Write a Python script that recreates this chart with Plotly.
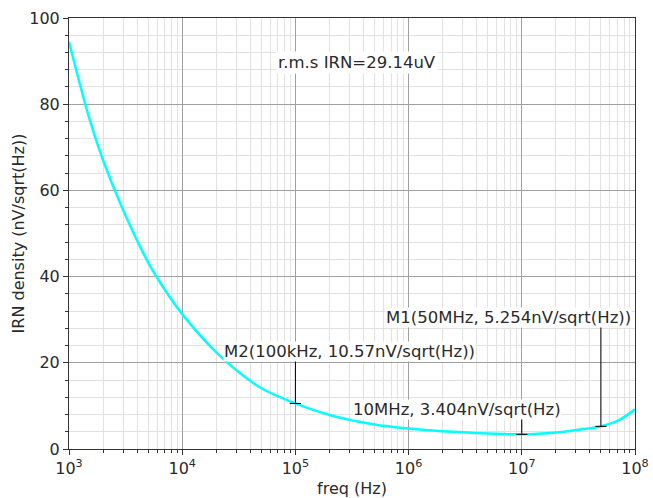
import numpy as np
import plotly.graph_objects as go

# Curve data
freq = [1e3, 1.5e3, 2e3, 3e3, 5e3, 7e3, 1e4, 2e4, 3e4, 5e4, 1e5, 2e5, 5e5,
        1e6, 2e6, 5e6, 1e7, 2e7, 3e7, 5e7, 7e7, 1e8]
irn = [94.5, 77.0, 67.0, 55.5, 43.3, 37.0, 31.3, 22.4, 18.3, 14.1, 10.57, 7.9, 5.7,
       4.75, 4.1, 3.6, 3.404, 3.85, 4.4, 5.254, 6.5, 9.2]

# Markers
marker_freq = [1e5, 5e7, 1e7]
marker_val = [10.57, 5.254, 3.404]
marker_top = [21.4, 29.2, 7.4]
marker_text = ["M2(100kHz, 10.57nV/sqrt(Hz))", "M1(50MHz, 5.254nV/sqrt(Hz))",
               "10MHz, 3.404nV/sqrt(Hz)"]
label_x = [2.29e4, 9.5e7, 3.13e5]
label_y = [22.6, 30.4, 9.05]
label_anchor = ["left", "right", "left"]

rms_text = "r.m.s IRN=29.14uV"
rms_x = 6.7e4
rms_y = 89.6

x_tickvals = [1e3, 1e4, 1e5, 1e6, 1e7, 1e8]
x_ticktext = ["10<sup>3</sup>", "10<sup>4</sup>", "10<sup>5</sup>", "10<sup>6</sup>",
              "10<sup>7</sup>", "10<sup>8</sup>"]
x_minor = [m * 10 ** d for d in range(3, 8) for m in range(2, 10)]
y_tickvals = [0, 20, 40, 60, 80, 100]
y_minor = [v for v in range(0, 101, 4) if v % 20 != 0]

FONT = "DejaVu Sans"
TXT = "#2a2a2a"

fig = go.Figure()
fig.add_trace(go.Scatter(x=freq, y=irn, mode="lines",
                         line=dict(color="#00FFFF", width=2.5, shape="spline"),
                         hoverinfo="skip", showlegend=False))

for f, v, t in zip(marker_freq, marker_val, marker_top):
    fig.add_trace(go.Scatter(x=[f, f], y=[v, t], mode="lines",
                             line=dict(color="black", width=1),
                             showlegend=False, hoverinfo="skip"))
fig.add_trace(go.Scatter(x=marker_freq, y=marker_val, mode="markers",
                         marker=dict(symbol="line-ew", size=8,
                                     line=dict(color="black", width=1)),
                         showlegend=False, hoverinfo="skip"))

for lx, ly, txt, anc in zip(label_x, label_y, marker_text, label_anchor):
    fig.add_annotation(x=np.log10(lx), y=ly, text=txt, showarrow=False,
                       xanchor=anc, yanchor="middle", bgcolor="white",
                       borderpad=0, font=dict(family=FONT, size=16.5, color=TXT))

fig.add_annotation(x=np.log10(rms_x), y=rms_y, text=rms_text, showarrow=False,
                   xanchor="left", yanchor="middle", bgcolor="white", borderpad=1,
                   font=dict(family=FONT, size=16.5, color=TXT))

fig.update_layout(
    width=653, height=498,
    margin=dict(l=69, r=18, t=18, b=49),
    paper_bgcolor="white", plot_bgcolor="white",
    font=dict(family=FONT, size=15, color=TXT),
    showlegend=False,
)
fig.update_xaxes(
    type="log", range=[3, 8], automargin=False,
    tickvals=x_tickvals, ticktext=x_ticktext,
    ticks="outside", ticklen=5, tickcolor="#333",
    showgrid=True, gridcolor="#a0a0a0", gridwidth=1,
    showline=True, linecolor="#333", linewidth=1, mirror=True,
    minor=dict(tickvals=x_minor, ticks="outside", ticklen=3, tickcolor="#333",
               showgrid=True, gridcolor="#e2e2e2", gridwidth=1),
    title=dict(text="freq (Hz)", standoff=5, font=dict(size=16)),
    tickfont=dict(size=16),
    zeroline=False,
)
fig.update_yaxes(
    range=[0, 100], automargin=False,
    tickvals=y_tickvals,
    ticks="outside", ticklen=5, tickcolor="#333",
    showgrid=True, gridcolor="#a0a0a0", gridwidth=1,
    showline=True, linecolor="#333", linewidth=1, mirror=True,
    minor=dict(tickvals=y_minor, ticks="outside", ticklen=3, tickcolor="#333",
               showgrid=True, gridcolor="#e2e2e2", gridwidth=1),
    title=dict(text="IRN density (nV/sqrt(Hz))", standoff=0, font=dict(size=16)),
    tickfont=dict(size=16),
    zeroline=False,
)

fig.write_html("out.html", config={"displayModeBar": False},
               post_script="document.body.style.margin='0';document.body.style.overflow='hidden';")
